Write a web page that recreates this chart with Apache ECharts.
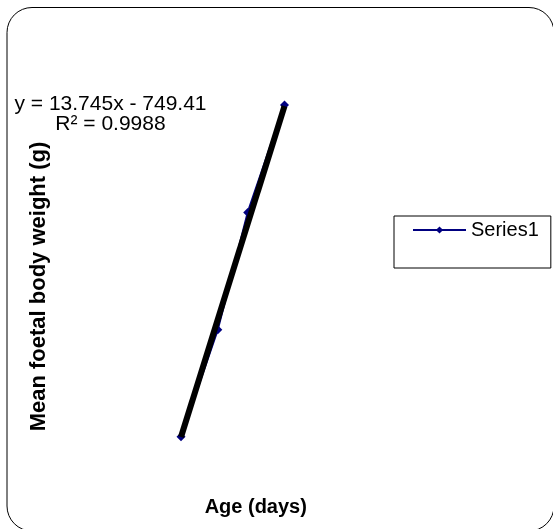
<!DOCTYPE html>
<html>
<head>
<meta charset="utf-8">
<script src="https://cdn.jsdelivr.net/npm/echarts@6/dist/echarts.min.js"></script>
<style>
  html, body { margin: 0; padding: 0; background: #fff; }
  #chart { width: 553px; height: 529px; }
</style>
</head>
<body>
<div id="chart"></div>
<script>
// ---- data ----
const ageDays = [60, 76, 89, 105];
const meanWeight = [76, 276, 495, 696];
const trendSlope = 13.745;
const trendIntercept = -749.41;
const trendLabel = ['y = 13.745x - 749.41', 'R\u00b2 = 0.9988'];
const seriesName = 'Series1';
const xTitle = 'Age (days)';
const yTitle = 'Mean foetal body weight (g)';

const FONT = '"Liberation Sans", Arial, sans-serif';

const points = ageDays.map((d, i) => [d, meanWeight[i]]);
const xFirst = ageDays[0], xLast = ageDays[ageDays.length - 1];
const trendPts = [
  [xFirst, trendSlope * xFirst + trendIntercept],
  [xLast, trendSlope * xLast + trendIntercept]
];

const chart = echarts.init(document.getElementById('chart'), null, { renderer: 'canvas' });
chart.setOption({
  animation: false,
  backgroundColor: '#fff',
  grid: { left: 54.5, width: 402.5, top: 95.7, height: 381.6 },
  xAxis: {
    type: 'value', min: 5, max: 180,
    name: xTitle, nameLocation: 'middle', nameGap: 20,
    nameTextStyle: { fontSize: 20, fontWeight: 'bold', color: '#000', fontFamily: FONT },
    axisLine: { show: false }, axisTick: { show: false },
    axisLabel: { show: false }, splitLine: { show: false }
  },
  yAxis: {
    type: 'value', min: 0, max: 713.2,
    name: yTitle, nameLocation: 'middle', nameGap: 5, nameRotate: 90,
    nameTextStyle: { fontSize: 22, fontWeight: 'bold', color: '#000', fontFamily: FONT },
    axisLine: { show: false }, axisTick: { show: false },
    axisLabel: { show: false }, splitLine: { show: false }
  },
  legend: {
    data: [seriesName],
    left: 394, top: 216,
    orient: 'vertical',
    padding: [4, 12, 28, 18],
    borderColor: '#000', borderWidth: 1,
    itemWidth: 53, itemHeight: 9,
    textStyle: { fontSize: 20, color: '#000', fontFamily: FONT }
  },
  graphic: [
    {
      type: 'rect', z: -1, silent: true,
      shape: { x: 7, y: 7.5, width: 547, height: 523.5, r: 25 },
      style: { fill: 'none', stroke: '#000', lineWidth: 1 }
    },
    {
      type: 'text', z: 10, silent: true,
      x: 110.5, y: 94,
      style: {
        text: trendLabel.join('\n'),
        textAlign: 'center', textVerticalAlign: 'top',
        font: '21px ' + FONT, lineHeight: 20, fill: '#000'
      }
    }
  ],
  series: [
    {
      name: seriesName, type: 'line', data: points,
      symbol: 'diamond', symbolSize: 9, showSymbol: true,
      lineStyle: { color: '#000080', width: 2 },
      itemStyle: { color: '#000080' },
      z: 2, clip: false
    },
    {
      name: 'Linear (Series1)', type: 'line', data: trendPts,
      symbol: 'none', lineStyle: { color: '#000', width: 6 },
      z: 3, clip: false, silent: true
    }
  ]
});
</script>
</body>
</html>
